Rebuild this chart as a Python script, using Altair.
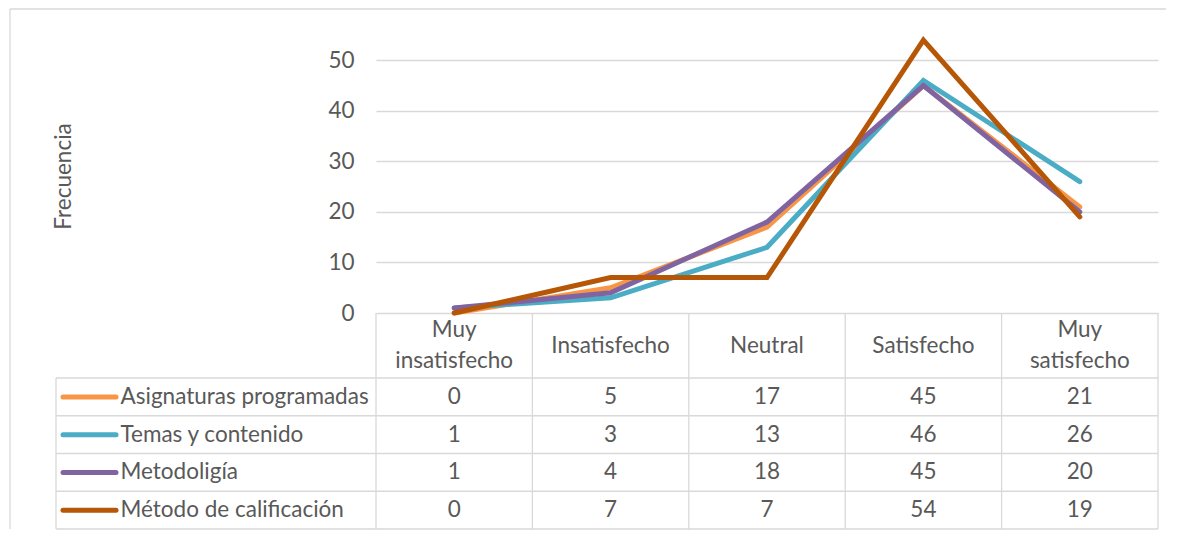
import altair as alt
import pandas as pd

# ---------------- data ----------------
categorias = ["Muy insatisfecho", "Insatisfecho", "Neutral", "Satisfecho", "Muy satisfecho"]
encabezados = ["Muy\ninsatisfecho", "Insatisfecho", "Neutral", "Satisfecho", "Muy\nsatisfecho"]
series = ["Asignaturas programadas", "Temas y contenido", "Metodoligía", "Método de calificación"]
asignaturas = [0, 5, 17, 45, 21]
temas = [1, 3, 13, 46, 26]
metodologia = [1, 4, 18, 45, 20]
metodo = [0, 7, 7, 54, 19]
colores = ["#F79646", "#4BACC6", "#8064A2", "#B65708"]
ticks_y = [0, 10, 20, 30, 40, 50]

valores = [asignaturas, temas, metodologia, metodo]
rows = []
for s, vals in zip(series, valores):
    for c, v in zip(categorias, vals):
        rows.append({"categoria": c, "serie": s, "valor": v})
df = pd.DataFrame(rows)
df_head = pd.DataFrame({"categoria": categorias, "encabezado": encabezados})
df_series = pd.DataFrame({"serie": series})
df_one = pd.DataFrame({"k": [0]})

# ---------------- styling ----------------
FONT = "Lato"
FS = 22.5
TXT = "#595959"
GRID = "#D9D9D9"
GW = 1.3
W = 782
H_PLOT = 278
H_HEAD = 65
H_ROWS = 151
LEG = 320
TOP = -26

color_scale = alt.Scale(domain=series, range=colores)

# ---------------- panel A: lines ----------------
x_point = alt.X("categoria:N", sort=categorias,
                scale=alt.Scale(type="point", padding=0.5), axis=None)
y_val = alt.Y("valor:Q", scale=alt.Scale(domain=[0, 55], nice=False),
              axis=alt.Axis(values=ticks_y, grid=True, gridColor=GRID, gridWidth=GW,
                            ticks=False, tickSize=0, domain=False, labelPadding=22,
                            labelFontSize=FS, labelColor=TXT, labelFont=FONT,
                            title="Frecuencia", titleFont=FONT, titleFontSize=FS,
                            titleColor=TXT, titleFontWeight="normal",
                            titleX=-313, titleY=H_PLOT / 2 + 2, titleAlign="center",
                            titleBaseline="middle", titleAngle=270))

layers = []
for s in series:
    layers.append(
        alt.Chart(df).transform_filter(alt.datum.serie == s)
        .mark_line(strokeWidth=5, strokeCap="round")
        .encode(x=x_point, y=y_val,
                color=alt.Color("serie:N", scale=color_scale, legend=None))
    )

frame_top = alt.Chart(df_one).mark_rule(color=GRID, strokeWidth=GW).encode(
    x=alt.value(-366), x2=alt.value(790), y=alt.value(TOP))
frame_left = alt.Chart(df_one).mark_rule(color=GRID, strokeWidth=GW).encode(
    x=alt.value(-366), y=alt.value(TOP), y2=alt.value(H_PLOT + H_HEAD + H_ROWS))

panel_a = alt.layer(frame_top, frame_left, *layers).properties(
    width=W, height=H_PLOT, view=alt.ViewBackground(strokeWidth=0))

# ---------------- panel B1: header ----------------
band_x = alt.Scale(type="band", paddingInner=0, paddingOuter=0)
x_band = alt.X("categoria:N", sort=categorias, scale=band_x, axis=None)
x_band_edge = alt.X("categoria:N", sort=categorias, scale=band_x, axis=None, bandPosition=0)

head_one = alt.Chart(df_head).transform_filter(
    "indexof(datum.encabezado, '\\n') < 0"
).mark_text(font=FONT, fontSize=FS, color=TXT, baseline="middle").encode(
    x=x_band, text="encabezado:N")
head_two = alt.Chart(df_head).transform_filter(
    "indexof(datum.encabezado, '\\n') >= 0"
).mark_text(font=FONT, fontSize=FS, color=TXT, lineBreak="\n", lineHeight=31,
            baseline="middle", dy=-15.5).encode(x=x_band, text="encabezado:N")
head_vlines = alt.Chart(df_head).mark_rule(color=GRID, strokeWidth=GW).encode(x=x_band_edge)
head_right = alt.Chart(df_one).mark_rule(color=GRID, strokeWidth=GW).encode(x=alt.value(W))

panel_b1 = alt.layer(head_vlines, head_right, head_one, head_two).properties(
    width=W, height=H_HEAD, view=alt.ViewBackground(strokeWidth=0))

# ---------------- panel B2: data rows ----------------
band_y = alt.Scale(type="band", paddingInner=0, paddingOuter=0)
y_axis = alt.Axis(ticks=False, tickSize=0, domain=False, grid=False, title=None,
                  labelAlign="left", labelPadding=256, labelFont=FONT, labelLimit=400,
                  labelFontSize=FS, labelColor=TXT, labelBaseline="middle")
y_band = alt.Y("serie:N", sort=series, scale=band_y, axis=y_axis)
y_band_mid = alt.Y("serie:N", sort=series, scale=band_y, axis=y_axis, bandPosition=0.5)
y_band_edge = alt.Y("serie:N", sort=series, scale=band_y, axis=y_axis, bandPosition=0)

cells = alt.Chart(df).mark_text(font=FONT, fontSize=FS, color=TXT, baseline="middle").encode(
    x=x_band, y=y_band, text="valor:Q")
rows_vlines = alt.Chart(df_head).mark_rule(color=GRID, strokeWidth=GW).encode(x=x_band_edge)
rows_right = alt.Chart(df_one).mark_rule(color=GRID, strokeWidth=GW).encode(x=alt.value(W))
rows_hlines = alt.Chart(df_series).mark_rule(color=GRID, strokeWidth=GW).encode(
    y=y_band_edge, x=alt.value(-LEG), x2=alt.value(W))
rows_bottom = alt.Chart(df_one).mark_rule(color=GRID, strokeWidth=GW).encode(
    y=alt.value(H_ROWS), x=alt.value(-LEG), x2=alt.value(W))
rows_left = alt.Chart(df_one).mark_rule(color=GRID, strokeWidth=GW).encode(
    x=alt.value(-LEG), y=alt.value(0), y2=alt.value(H_ROWS))
swatches = alt.Chart(df_series).mark_rule(strokeWidth=5, strokeCap="round").encode(
    y=y_band_mid, x=alt.value(-313), x2=alt.value(-260),
    color=alt.Color("serie:N", scale=color_scale, legend=None))

panel_b2 = alt.layer(rows_vlines, rows_right, rows_hlines, rows_bottom, rows_left,
                     swatches, cells).properties(
    width=W, height=H_ROWS, view=alt.ViewBackground(strokeWidth=0))

chart = alt.vconcat(panel_a, panel_b1, panel_b2, spacing=0, bounds="flush").resolve_scale(
    x="independent", y="independent"
).properties(
    padding={"left": 1, "top": 0, "right": 0, "bottom": 0}
).configure_view(stroke="transparent", strokeWidth=0).configure(font=FONT)

chart.save("out.html", embed_options={"renderer": "svg", "actions": False})
